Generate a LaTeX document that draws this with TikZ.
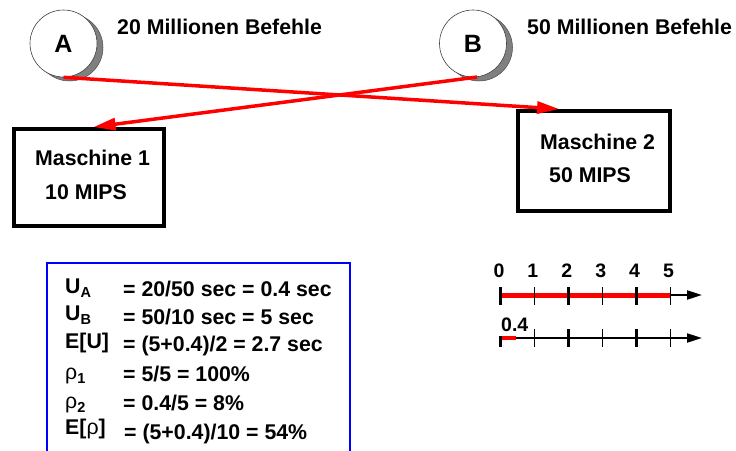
\documentclass[tikz,border=0pt]{standalone}
\usepackage{fontspec}
\setmainfont{Liberation Sans}
\usetikzlibrary{arrows.meta,calc}
\begin{document}
\begin{tikzpicture}[x=1pt,y=-1pt,
  lbl/.style={inner sep=0pt, font=\bfseries\fontsize{21.3}{25}\selectfont},
  circ/.style={circle, draw=black!75, line width=0.6pt, fill=white, minimum size=67pt, inner sep=0pt, font=\bfseries\fontsize{25}{30}\selectfont},
  shad/.style={circle, draw=black!70, line width=0.5pt, fill=black!50, minimum size=67pt, inner sep=0pt},
  mach/.style={draw, line width=4pt, inner sep=0pt},
  flow/.style={red, line width=3.5pt, -{Triangle[length=22pt,width=12pt]}},
  axis/.style={line width=2pt, -{Triangle[length=15pt,width=9pt]}},
  tk/.style={line width=2.7pt},
  tn/.style={line width=1.2pt},
  num/.style={inner sep=0pt, font=\bfseries\fontsize{19.5}{22}\selectfont}
]
\useasboundingbox (0,0) rectangle (736,450);
% circles
\node[shad] (as) at (69.5,47.5) {};
\node[circ] (a) at (63.5,43.5) {A};
\node[shad] (bs) at (479,47.5) {};
\node[circ] (b) at (473,43.5) {B};
\node[lbl, anchor=west] (ta) at (117,27) {20 Millionen Befehle};
\node[lbl, anchor=west] (tb) at (527,27) {50 Millionen Befehle};
% machines
\node[mach, minimum width=150pt, minimum height=97pt] (m1) at (89,177.5) {};
\node[lbl, anchor=west] (m1a) at (35,158) {Maschine 1};
\node[lbl, anchor=west] (m1b) at (45,192.5) {10 MIPS};
\node[mach, minimum width=152pt, minimum height=100pt] (m2) at (594,161) {};
\node[lbl, anchor=west] (m2a) at (540,141.7) {Maschine 2};
\node[lbl, anchor=west] (m2b) at (549,175.5) {50 MIPS};
% arrows
\draw[flow] (a.south) -- ($(m2.north west)!0.276!(m2.north east)$);
\draw[flow] (b.-83) -- ($(m1.north west)!0.53!(m1.north east)$);
% blue box
\draw[blue, line width=2pt] (47,455) -- (47,263) -- (350,263) -- (350,455);
\node[lbl, anchor=base west] (l1) at (65,293) {U\raisebox{-4pt}{\fontsize{14.5}{14}\selectfont A}};
\node[lbl, anchor=base west] (l2) at (65,320.7) {U\raisebox{-4pt}{\fontsize{14.5}{14}\selectfont B}};
\node[lbl, anchor=base west] (l3) at (65,348.3) {E[U]};
\node[lbl, anchor=base west] (l4) at (65,379) {\mdseries ρ\raisebox{-4pt}{\bfseries\fontsize{14.5}{14}\selectfont 1}};
\node[lbl, anchor=base west] (l5) at (65,408) {\mdseries ρ\raisebox{-4pt}{\bfseries\fontsize{14.5}{14}\selectfont 2}};
\node[lbl, anchor=base west] (l6) at (65,434.3) {E[{\mdseries ρ}]};
\node[lbl, anchor=base west] (v1) at (123,296) {= 20/50 sec = 0.4 sec};
\node[lbl, anchor=base west] (v2) at (123,324) {= 50/10 sec = 5 sec};
\node[lbl, anchor=base west] (v3) at (123,351.7) {= (5+0.4)/2 = 2.7 sec};
\node[lbl, anchor=base west] (v4) at (123,381.7) {= 5/5 = 100\%};
\node[lbl, anchor=base west] (v5) at (123,410) {= 0.4/5 = 8\%};
\node[lbl, anchor=base west] (v6) at (124,439.3) {= (5+0.4)/10 = 54\%};
% number line 1
\draw[axis] (500,295) -- (702,295);
\draw[red, line width=5pt] (500,295) -- (671,295);
\foreach \i in {0,2,4} \draw[tk] (500.7+33.9*\i,287) -- (500.7+33.9*\i,305);
\foreach \i in {1,3,5} \draw[tn] (500.7+33.9*\i,287) -- (500.7+33.9*\i,305);
\foreach \i in {0,...,5} \node[num] (n\i) at (499+33.9*\i,271) {\i};
% number line 2
\draw[axis] (500,338) -- (702,338);
\draw[red, line width=4.3pt] (500,338) -- (516,338);
\draw[tk] (500.7,336) -- (500.7,347);
\foreach \i in {2,4} \draw[tk] (500.7+33.9*\i,329) -- (500.7+33.9*\i,347);
\foreach \i in {1,3,5} \draw[tn] (500.7+33.9*\i,329) -- (500.7+33.9*\i,347);
\node[num, anchor=west] (n04) at (501,325) {0.4};
\end{tikzpicture}
\end{document}
